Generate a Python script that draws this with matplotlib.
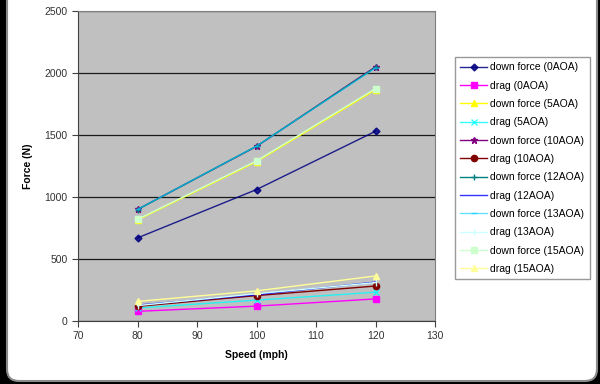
import matplotlib
matplotlib.use("Agg")
import matplotlib.pyplot as plt
from matplotlib.patches import FancyBboxPatch
from matplotlib.transforms import IdentityTransform

speed = [80, 100, 120]

series_names = [
    "down force (0AOA)", "drag (0AOA)",
    "down force (5AOA)", "drag (5AOA)",
    "down force (10AOA)", "drag (10AOA)",
    "down force (12AOA)", "drag (12AOA)",
    "down force (13AOA)", "drag (13AOA)",
    "down force (15AOA)", "drag (15AOA)",
]

df_0 = [670, 1060, 1530]
drag_0 = [78, 120, 178]
df_5 = [815, 1285, 1865]
drag_5 = [105, 168, 232]
df_10 = [900, 1408, 2050]
drag_10 = [118, 205, 282]
df_12 = [898, 1410, 2045]
drag_12 = [128, 212, 314]
df_13 = [900, 1410, 2040]
drag_13 = [124, 220, 310]
df_15 = [820, 1292, 1875]
drag_15 = [158, 243, 363]

values = [df_0, drag_0, df_5, drag_5, df_10, drag_10,
          df_12, drag_12, df_13, drag_13, df_15, drag_15]

colors = ["#000080", "#FF00FF", "#FFFF00", "#00FFFF", "#800080", "#800000",
          "#008080", "#0000FF", "#00CCFF", "#CCFFFF", "#CCFFCC", "#FFFF99"]
markers = ["D", "s", "^", "x", "*", "o", "+", None, "_", "|", "s", "^"]
msizes = [3.5, 4.5, 4.5, 4.5, 5, 4.5, 5, 0, 5, 4, 4.5, 4.5]
alphas = [0.85, 1, 1, 0.8, 1, 1, 1, 0.8, 0.6, 1, 1, 1]

plt.rcParams['font.family'] = ['Liberation Sans', 'DejaVu Sans']

fig = plt.figure(figsize=(6.0, 3.84), dpi=100)
fig.patch.set_facecolor("black")
bg = FancyBboxPatch((7, 3), 590, 400, boxstyle="round,pad=0,rounding_size=12",
                    transform=IdentityTransform(), facecolor="white",
                    edgecolor="#8a8a8a", linewidth=1.5, zorder=-10)
fig.patches.append(bg)

ax = fig.add_axes([78/600, 1-321/384, (435-78)/600, (321-11)/384])
ax.set_facecolor("#C0C0C0")

for name, vals, c, m, ms, a in zip(series_names, values, colors, markers, msizes, alphas):
    ax.plot(speed, vals, color=c, marker=m, markersize=ms, linewidth=1.0,
            markeredgewidth=1.0, alpha=a, label=name)

ax.set_xlim(70, 130)
ax.set_ylim(0, 2500)
ax.set_xticks(range(70, 131, 10))
ax.set_yticks(range(0, 2501, 500))
ax.yaxis.grid(True, color="#1a1a1a", linewidth=0.9)
ax.set_axisbelow(True)
for s in ["top", "right"]:
    ax.spines[s].set_color("#808080")
for s in ["left", "bottom"]:
    ax.spines[s].set_color("#404040")
ax.tick_params(axis="both", labelsize=7.5, colors="#404040", length=4,
               direction="out", labelcolor="#333333")
ax.set_xlabel("Speed (mph)", fontsize=7.5, fontweight="bold", labelpad=6)
ax.set_ylabel("Force (N)", fontsize=7.5, fontweight="bold", labelpad=8)

leg = fig.legend(loc="upper left", bbox_to_anchor=(455/600, 1-57/384),
                 fontsize=7.5, frameon=True, fancybox=False,
                 handlelength=2.6, handletextpad=0.3, labelspacing=0.8,
                 borderpad=0.5, borderaxespad=0)
leg.get_frame().set_edgecolor("#808080")
leg.get_frame().set_linewidth(1.0)

fig.savefig("out.png", dpi=100, facecolor=fig.get_facecolor())
